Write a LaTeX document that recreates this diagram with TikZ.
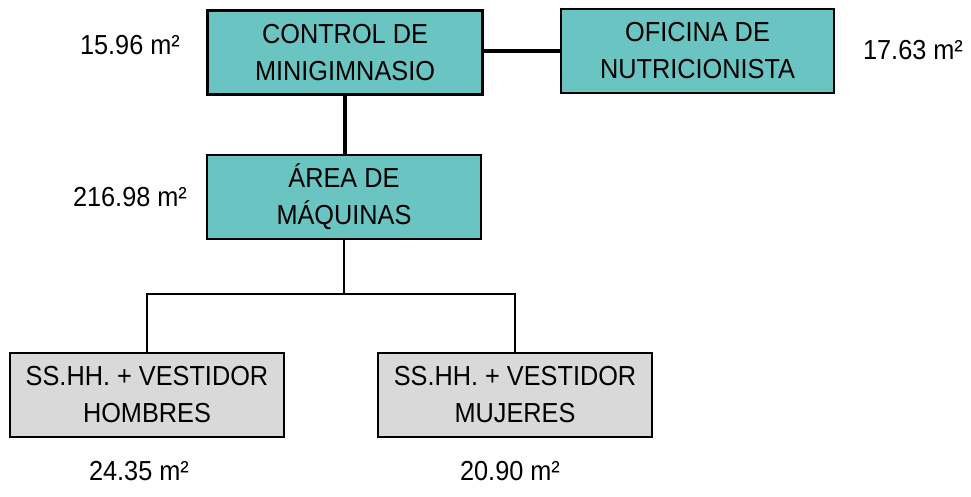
\documentclass[tikz,border=0pt]{standalone}
\usepackage{fontspec}
\setmainfont{Liberation Sans}[FakeStretch=0.92]
\definecolor{teal1}{RGB}{106,196,194}
\definecolor{gray1}{RGB}{217,217,217}
\begin{document}
\begin{tikzpicture}[x=1pt,y=-1pt,
  box/.style={draw=black,line width=2pt,minimum width=274pt,minimum height=84pt,align=center,inner sep=0pt,font=\fontsize{27.5}{37}\selectfont},
  tealbox/.style={box,fill=teal1},
  graybox/.style={box,fill=gray1},
  area/.style={font=\fontsize{27.5}{30}\selectfont,inner sep=0pt},
  thick1/.style={line width=4.5pt},
  thin1/.style={line width=2pt}]
\useasboundingbox (0,0) rectangle (971,496);
\node[tealbox,line width=3.5pt,minimum width=275pt,minimum height=84pt] (n1) at (345,52.5) {CONTROL DE\\MINIGIMNASIO};
\node[tealbox,minimum width=273pt] (n2) at (697.5,51) {OFICINA DE\\NUTRICIONISTA};
\node[tealbox] (n3) at (344,197) {ÁREA DE\\MÁQUINAS};
\node[graybox] (n4) at (147,394.5) {SS.HH. + VESTIDOR\\HOMBRES};
\node[graybox] (n5) at (515,394.5) {SS.HH. + VESTIDOR\\MUJERES};
\node[area] (a1) at (130,45) {15.96 m²};
\node[area] (a2) at (913,50) {17.63 m²};
\node[area] (a3) at (130,197) {216.98 m²};
\node[area] (a4) at (139,471) {24.35 m²};
\node[area] (a5) at (510,471) {20.90 m²};
\coordinate (j) at (344,294);
\draw[thick1] (n2.west -| n1.east) -- (n2.west);
\draw[thick1] (n1.south) -- (n1.south |- n3.north);
\draw[thin1] (n3.south) -- (j);
\draw[thin1] (n4.north) |- (j) -| (n5.north);
\end{tikzpicture}
\end{document}
